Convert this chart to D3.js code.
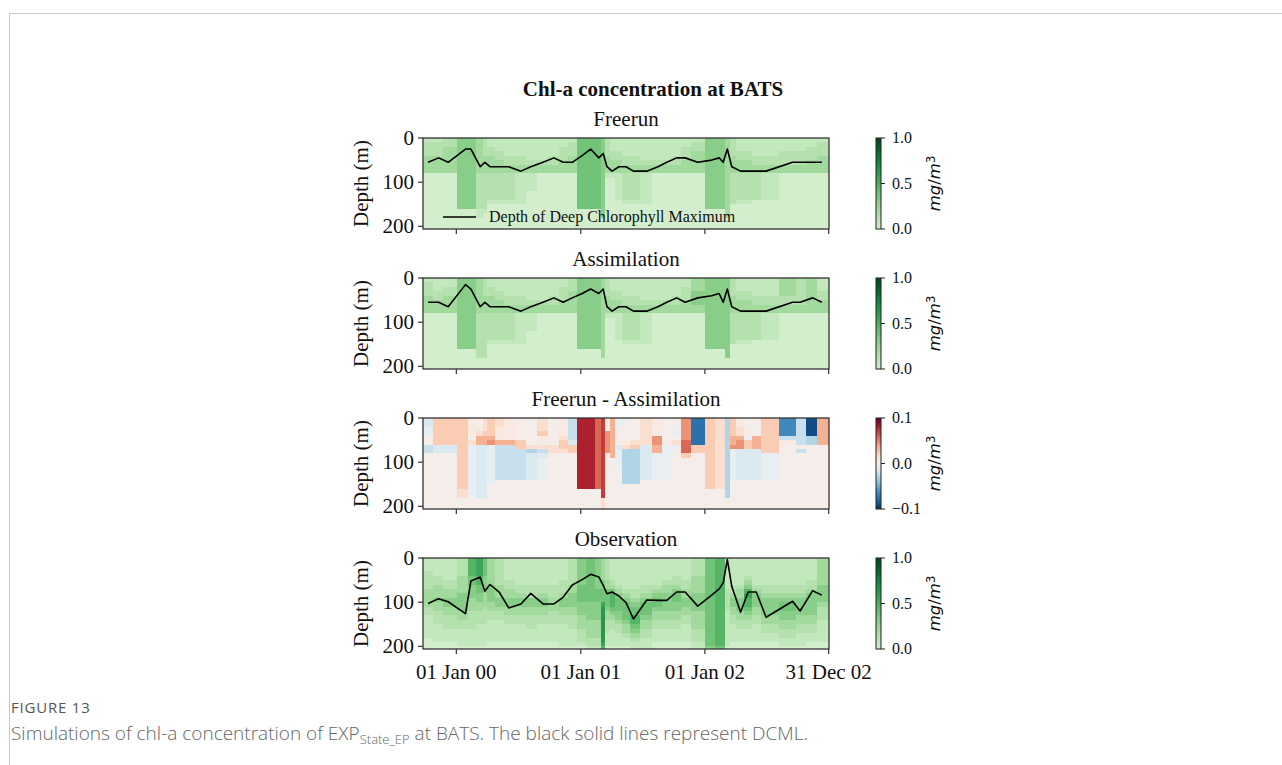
<!DOCTYPE html>
<html>
<head>
<meta charset="utf-8">
<script src="https://cdn.jsdelivr.net/npm/d3@7"></script>
<style>
  body { margin: 0; background: #fff; }
  .serif { font-family: "Liberation Serif", "Times New Roman", serif; fill: #111; }
  .caption { font-family: "Open Sans", Lato, sans-serif; fill: #666; }
</style>
</head>
<body>
<svg id="chart" width="1282" height="765"></svg>
<script>
// ---- data ----
const sampleDates = [
  "1999-10-10","1999-11-10","1999-12-08","2000-01-28","2000-02-13","2000-03-11","2000-03-25","2000-04-09",
  "2000-05-06","2000-06-03","2000-07-09","2000-08-07","2000-09-12","2000-10-14","2000-11-10","2000-12-07",
  "2001-01-05","2001-01-30","2001-02-23","2001-03-08","2001-03-19","2001-04-03","2001-04-23","2001-05-14",
  "2001-06-05","2001-07-14","2001-08-16","2001-09-11","2001-10-10","2001-11-04","2001-12-11","2002-01-21",
  "2002-02-12","2002-02-24","2002-03-08","2002-03-21","2002-04-16","2002-05-08","2002-06-01","2002-06-30",
  "2002-09-16","2002-10-08","2002-11-14","2002-12-11"
];
const X_START = "1999-09-25", X_END = "2003-01-01";
const xTickDates = ["2000-01-01", "2001-01-01", "2002-01-01", "2002-12-31"];
const depthEdges = [0,10,20,30,40,50,60,70,80,90,100,110,120,130,140,150,160,170,180,190,200,210];
const depthTicks = [0, 100, 200];
const DEPTH_MAX = 206;

// DCM depth (m) at each sample
const freerunDcm = [55,45,55,25,25,65,55,65,65,65,75,65,55,45,55,55,40,25,45,35,65,75,65,65,75,75,65,55,45,45,55,50,45,55,25,65,75,75,75,75,55,55,55,55];
const assimDcm   = [55,55,65,15,25,65,55,65,65,65,75,65,55,45,55,45,35,25,35,25,65,75,65,65,75,75,65,55,45,55,45,40,35,55,25,65,75,75,75,75,55,55,45,55];
const obsDcm     = [103,92,99,126,52,43,75,60,77,113,104,80,104,104,89,61,49,37,43,62,81,77,86,101,138,95,96,96,77,77,109,84,70,56,3,64,123,77,77,134,98,120,74,84];

// chl-a level codes (one char per 10 m bin, surface first)
const greenLevels = [0, 0.07, 0.14, 0.21, 0.30, 0.38, 0.47, 0.56, 0.64, 0.72];
const diffLevels = {
  i: -0.09, h: -0.075, g: -0.065, f: -0.05, e: -0.04, d: -0.03, c: -0.022, b: -0.014, a: -0.007,
  "0": 0.004, "1": 0.008, "2": 0.016, "3": 0.025, "4": 0.035, "5": 0.045, "6": 0.058, "7": 0.07, "8": 0.08, "9": 0.09
};

const freerunCells = [
  "122233330000000000000","122233330000000000000","223333330000000000000","444444444444444400000",
  "444444444444444400000","333333332222222211000","222233332222222210000","112233332222221000000",
  "111223332222221000000","111122332222221000000","111122331111111000000","111112331111000000000",
  "111112330000000000000","111122330000000000000","112223330000000000000","122233330000000000000",
  "555555555555555500000","555555555555555500000","555555555555555500000","444444444444444444000",
  "222233331000000000000","111223331000000000000","111223331111110000000","111122332222221000000",
  "111122332222221000000","111112331111111000000","111112330000000000000","111112330000000000000",
  "111122330000000000000","112223330000000000000","122333330000000000000","444444444444444400000",
  "444444444444444400000","444444444444444400000","333333333333333333000","222233332222222000000",
  "111223332222221000000","111223332222221000000","111122332222220000000","111122331111110000000",
  "111222330000000000000","111222330000000000000","112223330000000000000","122233330000000000000"
];
const assimCells = [
  "122233330000000000000","111223330000000000000","112233330000000000000","444444444444444400000",
  "444444444444444400000","333333332222222222000","222233332222222222000","112233332222221000000",
  "111223332222221000000","111122332222221000000","111122331111111000000","111112331111000000000",
  "111112330000000000000","111122330000000000000","112223330000000000000","222333330000000000000",
  "444444444444444400000","444444444444444400000","444444444444444400000","333333333333333333000",
  "222233331000000000000","111223331000000000000","111223331111110000000","111122332222221000000",
  "111122332222221000000","111112331111111000000","111112330000000000000","111112330000000000000",
  "111122330000000000000","112223330000000000000","333444330000000000000","444444444444444400000",
  "444444444444444400000","444444444444444400000","444444444444444444000","222233332222222000000",
  "111223332222221000000","111223332222221000000","111122332222220000000","111122331111110000000",
  "333322330000000000000","222222330000000000000","333333330000000000000","111223330000000000000"
];
const diffCells = [
  "bbaa00cc0000000000000","333333bb0000000000000","333333bb0000000000000","333333333333333322000",
  "111102aaaaaaaaaaaa000","101244bbbbbbbbbbbb000","222344bbbbbbbbbbbb000","333345aaaaaaaaa000000",
  "221114cccccccc0000000","111114cccccccc0000000","0000033ccccccc0000000","0000002dbbbbbb0000000",
  "2223112cbaaaaa0000000","000000220000000000000","111123320000000000000","cccccb330000000000000",
  "888888888888888800000","888888888888888800000","666666666666666600000","777777777777777777222",
  "000555550000000000000","444444444000000000000","aa0000baaaaa000000000","a000012dddddddd000000",
  "0000023dddddddd000000","222222bbbbbbbb0000000","11115544aaaaaa0000000","000001aaaaaaaa0000000",
  "000a02a00000000000000","555556663000000000000","hhhhhh330000000000000","333333333333333300000",
  "222222222222222200000","222222222222222200000","dddddddddddddddddd000","3333445aaaaaaa0000000",
  "1122455bbbbbbb0000000","0001a33bbbbbbb0000000","0000444bbbbbbb0000000","33333333aaaaaa0000000",
  "ggggc1000000000000000","cccccc0c0000000000000","iiiidd000000000000000","444444000000000000000"
];
const obsCells = [
  "111222233332211111000","111122333433222111100","111112233443322211100","222233334444332211110",
  "666655444333222211110","777766554433222111110","555544443332222111110","333333444433221111100",
  "222222333443221111100","111112233443322111100","111111223443322111100","111111222443322211100",
  "111111223443322111100","111111222333222111100","111112223443322111110","222222334443322211110",
  "444444555544433322210","555555555544443333221","444444455544443333221","333334455578888888876",
  "222223355554332221110","111112356665432211110","111111234555443221110","111111123455554332110",
  "111111122345566543211","111111223455543322111","111111234554332211100","111112334444332211100",
  "111122345544332211100","111112233443322111100","222233334444333322211","555555555555555555554",
  "666666666666666666665","666666666666666666665","111111122222111111110","111111223443322111100",
  "111111233444332211100","111123467665432211100","111111234443322111100","111111223444433221100",
  "111111223455443322110","111111223444433221110","111112234444433221100","333333444432221111100"
];

const panelTitles = ["Freerun", "Assimilation", "Freerun - Assimilation", "Observation"];
const greenTicks = [0, 0.5, 1.0];
const diffTicks = [-0.1, 0, 0.1];
const legendLabel = "Depth of Deep Chlorophyll Maximum";

// ---- layout ----
const axLeft = 423, axWidth = 406, axHeight = 91;
const panelTops = [138, 278, 418, 558];
const cbOffset = 453, cbWidth = 5;

const parse = d3.utcParse("%Y-%m-%d");
const times = sampleDates.map(parse);
const edges = [parse(X_START)];
for (let i = 0; i < times.length - 1; i++) edges.push(new Date((+times[i] + +times[i + 1]) / 2));
edges.push(parse(X_END));

const x = d3.scaleUtc().domain([parse(X_START), parse(X_END)]).range([0, axWidth]);
const y = d3.scaleLinear().domain([0, DEPTH_MAX]).range([0, axHeight]);

const greenColor = v => d3.interpolateGreens(0.2 + 0.8 * Math.max(0, Math.min(1, v)));
const diffColor = v => d3.interpolateRdBu(1 - (Math.max(-0.1, Math.min(0.1, v)) + 0.1) / 0.2);

const panels = [
  {cells: freerunCells, dcm: freerunDcm, kind: "green", legend: true},
  {cells: assimCells, dcm: assimDcm, kind: "green"},
  {cells: diffCells, dcm: null, kind: "diff"},
  {cells: obsCells, dcm: obsDcm, kind: "green", labels: true}
];

const svg = d3.select("#chart");

// card border
svg.append("path")
  .attr("d", "M9.5,765 V13.5 H1282")
  .attr("fill", "none")
  .attr("stroke", "#c8c8c8")
  .attr("stroke-width", 1);

svg.append("text")
  .attr("class", "serif")
  .attr("x", 653).attr("y", 96)
  .attr("text-anchor", "middle")
  .style("font-size", "21px").style("font-weight", "bold")
  .text("Chl-a concentration at BATS");

const defs = svg.append("defs");
defs.append("clipPath").attr("id", "axclip")
  .append("rect").attr("width", axWidth).attr("height", axHeight);

function addGradient(id, colorFn, lo, hi) {
  const g = defs.append("linearGradient").attr("id", id)
    .attr("x1", 0).attr("y1", 1).attr("x2", 0).attr("y2", 0);
  d3.range(0, 1.0001, 0.05).forEach(t => {
    g.append("stop").attr("offset", t).attr("stop-color", colorFn(lo + t * (hi - lo)));
  });
}
addGradient("gGreen", greenColor, 0, 1);
addGradient("gDiff", diffColor, -0.1, 0.1);

panels.forEach((p, k) => {
  const g = svg.append("g").attr("transform", `translate(${axLeft},${panelTops[k]})`);
  const colorFn = p.kind === "green" ? greenColor : diffColor;
  const decode = p.kind === "green" ? (ch => greenLevels[+ch]) : (ch => diffLevels[ch]);

  const cellData = [];
  p.cells.forEach((col, i) => {
    col.split("").forEach((ch, r) => {
      cellData.push({i, r, v: decode(ch)});
    });
  });

  g.append("g").attr("clip-path", "url(#axclip)")
    .selectAll("rect").data(cellData).join("rect")
    .attr("x", d => x(edges[d.i]))
    .attr("width", d => x(edges[d.i + 1]) - x(edges[d.i]) + 0.3)
    .attr("y", d => y(depthEdges[d.r]))
    .attr("height", d => y(depthEdges[d.r + 1]) - y(depthEdges[d.r]) + 0.3)
    .attr("fill", d => colorFn(d.v))
    .attr("shape-rendering", "crispEdges");

  if (p.dcm) {
    g.append("path")
      .datum(p.dcm)
      .attr("fill", "none")
      .attr("stroke", "#000")
      .attr("stroke-width", 1.6)
      .attr("stroke-linejoin", "round")
      .attr("d", d3.line().x((d, i) => x(times[i])).y(d => y(d)));
  }

  // frame
  g.append("rect").attr("width", axWidth).attr("height", axHeight)
    .attr("fill", "none").attr("stroke", "#333").attr("stroke-width", 1.3);

  // y axis
  depthTicks.forEach(t => {
    g.append("line").attr("x1", -5).attr("x2", 0).attr("y1", y(t)).attr("y2", y(t))
      .attr("stroke", "#333").attr("stroke-width", 1.2);
    g.append("text").attr("class", "serif")
      .attr("x", -9).attr("y", y(t)).attr("dy", "0.34em")
      .attr("text-anchor", "end").style("font-size", "21px").text(t);
  });
  g.append("text").attr("class", "serif")
    .attr("transform", `translate(-55,${axHeight / 2}) rotate(-90)`)
    .attr("text-anchor", "middle").style("font-size", "21px").text("Depth (m)");

  // x ticks
  const fmt = d3.utcFormat("%d %b %y");
  xTickDates.map(parse).forEach(t => {
    g.append("line").attr("x1", x(t)).attr("x2", x(t)).attr("y1", axHeight).attr("y2", axHeight + 5)
      .attr("stroke", "#333").attr("stroke-width", 1.2);
    if (p.labels) {
      g.append("text").attr("class", "serif")
        .attr("x", x(t)).attr("y", axHeight + 30)
        .attr("text-anchor", "middle").style("font-size", "21px").text(fmt(t));
    }
  });

  g.append("text").attr("class", "serif")
    .attr("x", axWidth / 2).attr("y", -12)
    .attr("text-anchor", "middle").style("font-size", "21px").text(panelTitles[k]);

  if (p.legend) {
    g.append("line").attr("x1", 20).attr("x2", 53).attr("y1", axHeight - 12).attr("y2", axHeight - 12)
      .attr("stroke", "#000").attr("stroke-width", 1.6);
    g.append("text").attr("class", "serif")
      .attr("x", 66).attr("y", axHeight - 12).attr("dy", "0.32em")
      .style("font-size", "16px").text(legendLabel);
  }

  // colorbar
  const ticks = p.kind === "green" ? greenTicks : diffTicks;
  const cbScale = d3.scaleLinear().domain(d3.extent(ticks)).range([axHeight, 0]);
  const cb = g.append("g").attr("transform", `translate(${cbOffset},0)`);
  cb.append("rect").attr("width", cbWidth).attr("height", axHeight)
    .attr("fill", p.kind === "green" ? "url(#gGreen)" : "url(#gDiff)")
    .attr("stroke", "#222").attr("stroke-width", 1);
  const tf = p.kind === "green" ? d3.format(".1f") : (v => d3.format(".1f")(v).replace("-", "\u2212"));
  ticks.forEach(t => {
    cb.append("line").attr("x1", cbWidth).attr("x2", cbWidth + 4)
      .attr("y1", cbScale(t)).attr("y2", cbScale(t)).attr("stroke", "#222");
    cb.append("text").attr("class", "serif")
      .attr("x", cbWidth + 11).attr("y", cbScale(t)).attr("dy", "0.34em")
      .style("font-size", "16px").text(tf(t));
  });
  const unit = cb.append("text")
    .attr("transform", `translate(${cbWidth + 59},${axHeight / 2}) rotate(-90)`)
    .attr("text-anchor", "middle")
    .style("font-family", "'DejaVu Sans', sans-serif")
    .style("font-size", "16.5px").style("fill", "#111");
  unit.append("tspan").style("font-style", "italic").text("mg");
  unit.append("tspan").text("/");
  unit.append("tspan").style("font-style", "italic").text("m");
  unit.append("tspan").attr("dy", "-0.45em").style("font-size", "11.5px").text("3");
});

// caption
svg.append("text").attr("class", "caption")
  .attr("x", 11).attr("y", 713)
  .style("font-size", "15px").style("fill", "#555").style("letter-spacing", "0.8px")
  .text("FIGURE 13");
const cap = svg.append("text").attr("class", "caption")
  .attr("x", 11).attr("y", 740).style("font-size", "19px").style("font-weight", 300);
cap.append("tspan").text("Simulations of chl-a concentration of EXP");
cap.append("tspan").attr("dy", 4).style("font-size", "13px").text("State_EP");
cap.append("tspan").attr("dy", -4).text(" at BATS. The black solid lines represent DCML.");
</script>
</body>
</html>
